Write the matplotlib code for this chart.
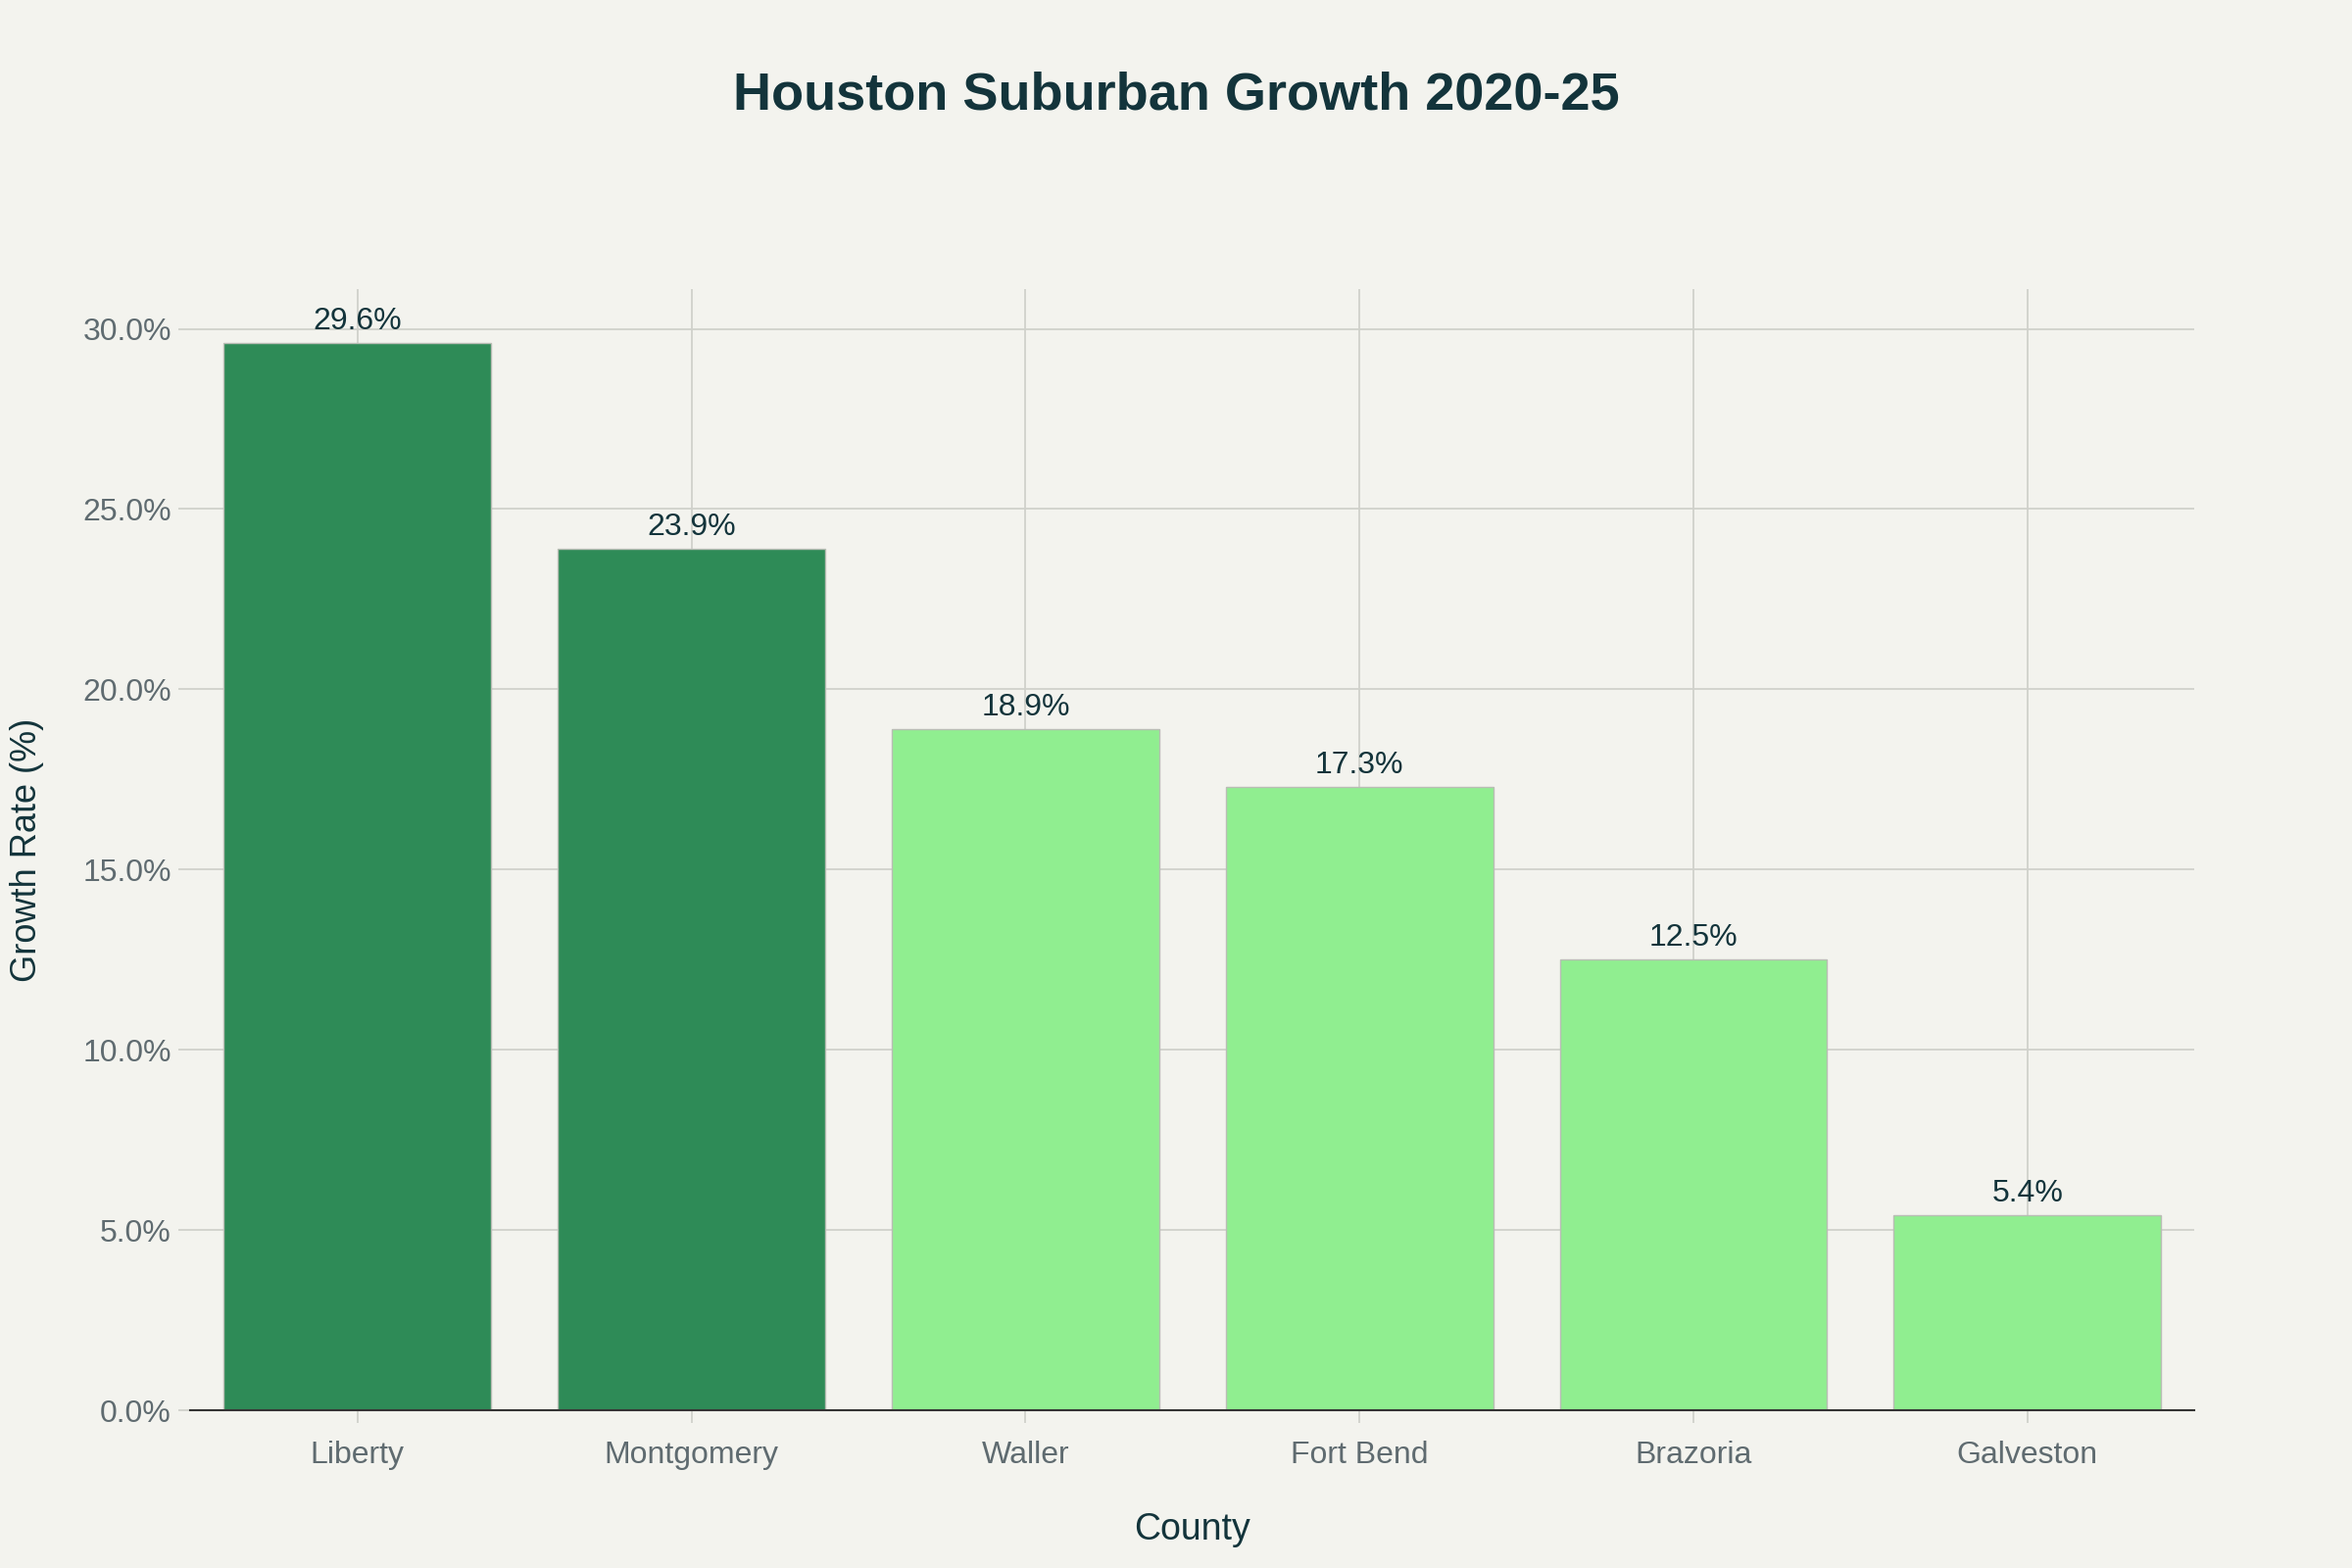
import matplotlib
matplotlib.use("Agg")
import matplotlib.pyplot as plt

counties = ["Liberty", "Montgomery", "Waller", "Fort Bend", "Brazoria", "Galveston"]
growth = [29.6, 23.9, 18.9, 17.3, 12.5, 5.4]
bar_colors = ["#2E8B57", "#2E8B57", "#90EE90", "#90EE90", "#90EE90", "#90EE90"]
y_ticks = [0, 5, 10, 15, 20, 25, 30]

plt.rcParams['font.family'] = ['Liberation Sans', 'DejaVu Sans']

bg = "#F3F3EE"
dark = "#13343B"
grey = "#5F6B70"

fig = plt.figure(figsize=(24, 16), dpi=100, facecolor=bg)
ax = fig.add_axes([0.081, 0.1006, 0.852, 0.715], facecolor=bg)

x = list(range(len(counties)))
bars = ax.bar(x, growth, width=0.8, color=bar_colors, edgecolor="#B9BDB5", linewidth=1.0, zorder=3)

for xi, v in zip(x, growth):
    ax.annotate(f"{v:.1f}%", (xi, v), xytext=(0, 5), textcoords="offset points",
                ha="center", va="bottom", fontsize=23, color=dark, zorder=4)

ax.set_xlim(-0.5, 5.5)
ax.set_ylim(0, 31.1)
ax.set_xticks(x)
ax.set_xticklabels(counties)
ax.set_yticks(y_ticks)
ax.set_yticklabels([f"{t:.1f}%" for t in y_ticks])

ax.grid(True, color="#D0D1CB", linewidth=1.3, zorder=0)
for s in ["left", "right", "top"]:
    ax.spines[s].set_visible(False)
ax.spines["bottom"].set_color("#333333")
ax.spines["bottom"].set_linewidth(1.5)
ax.spines["bottom"].set_zorder(5)

ax.tick_params(axis="both", colors="#D0D1CB", labelcolor=grey, labelsize=23, length=9, width=1.3)
ax.tick_params(axis="x", pad=13)
ax.tick_params(axis="y", pad=5)

fig.text(0.5, 0.939, "Houston Suburban Growth 2020-25", ha="center", va="center",
         fontsize=39, fontweight="bold", color=dark)
fig.text(0.0115, 0.458, "Growth Rate (%)", rotation=90, ha="center", va="center",
         fontsize=26, color=dark)
fig.text(0.507, 0.0244, "County", ha="center", va="center", fontsize=27, color=dark)

fig.savefig("out.png", dpi=100, facecolor=bg)
